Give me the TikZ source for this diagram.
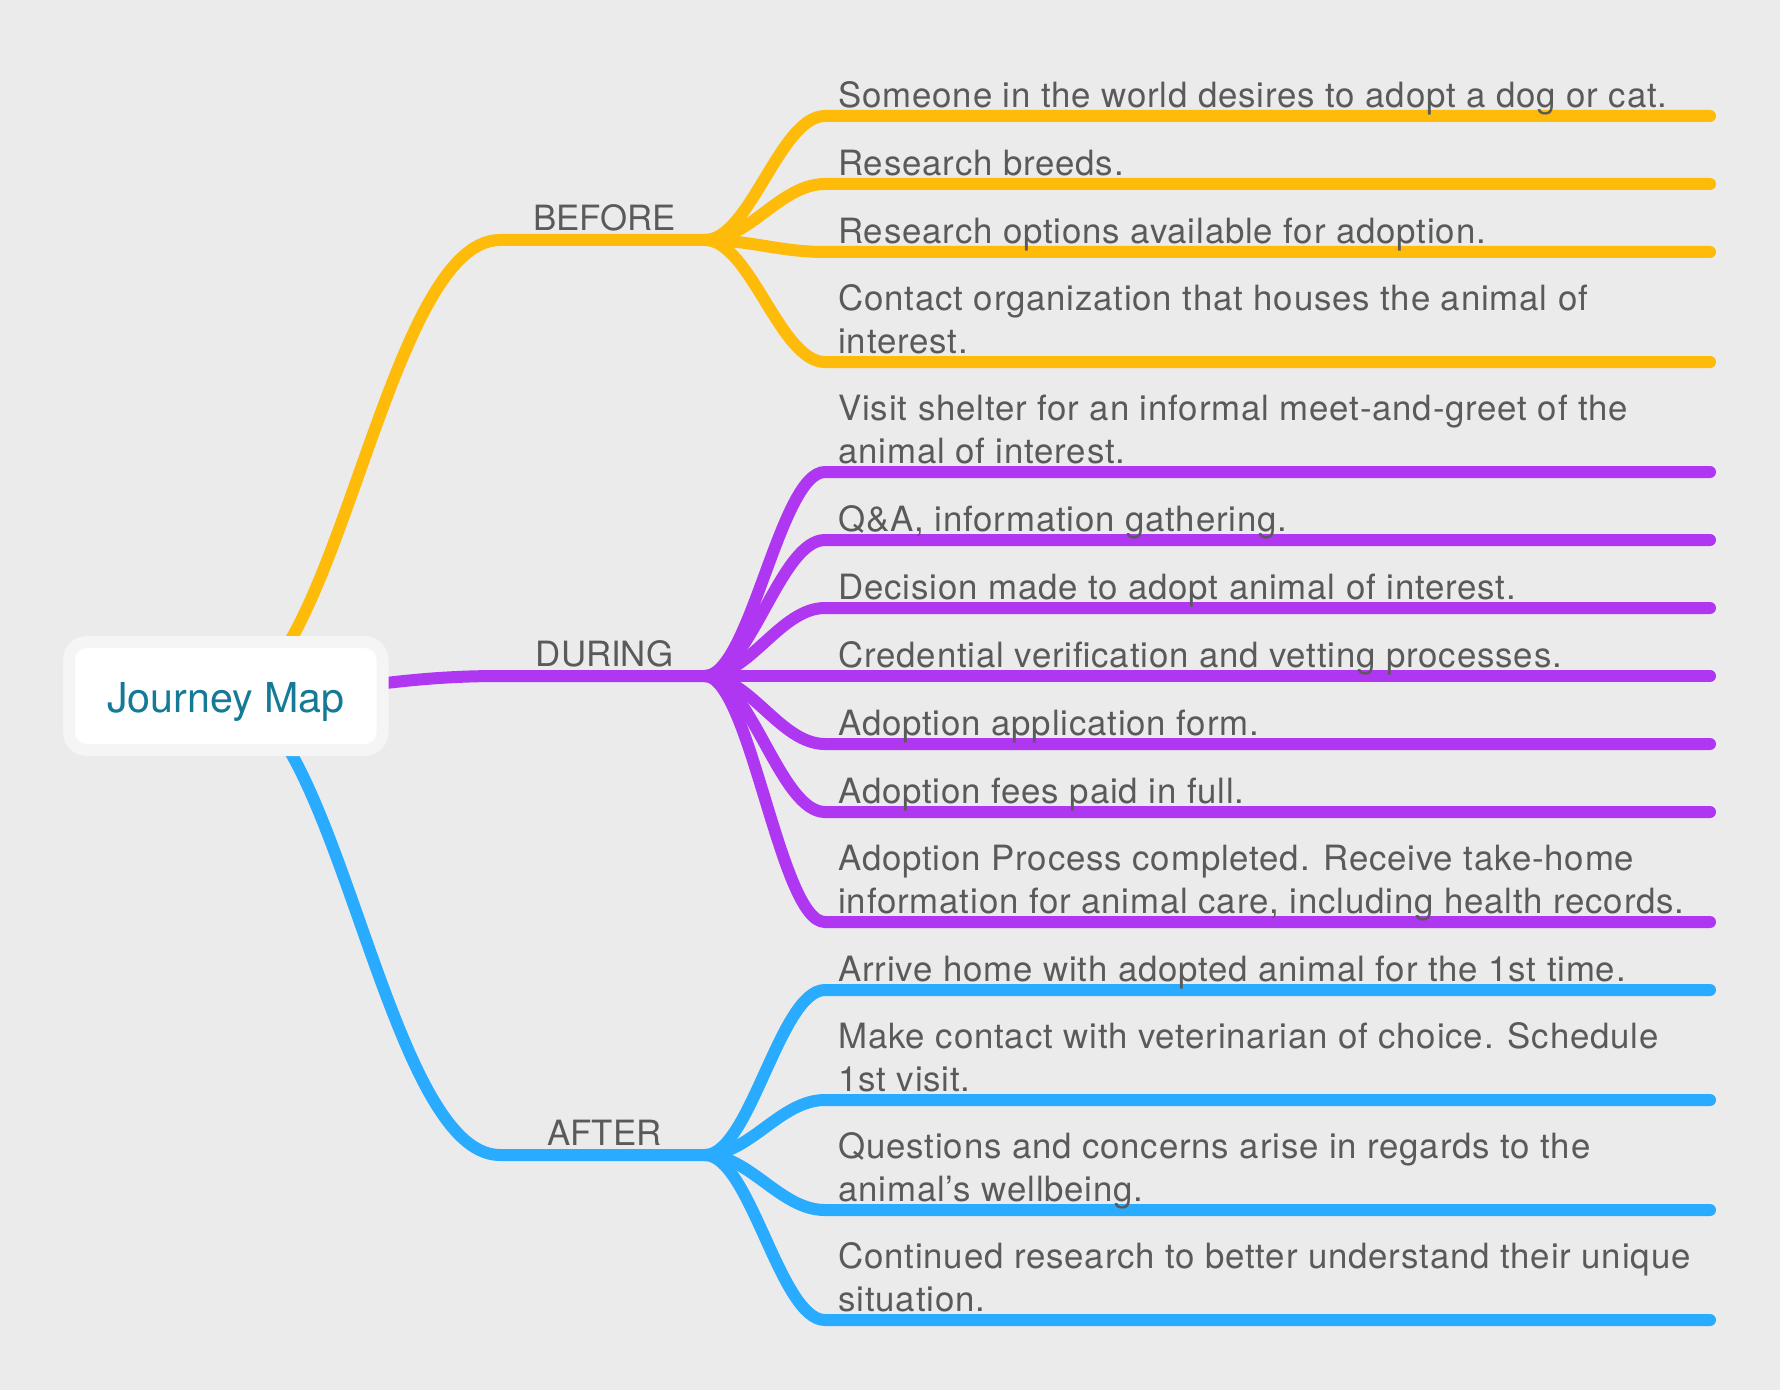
\documentclass[tikz,border=0pt]{standalone}
\usepackage{fontspec}
\setmainfont{TeX Gyre Heros}
\newfontfamily\leaffont[LetterSpace=2.4]{TeX Gyre Heros}
\usetikzlibrary{backgrounds}
\definecolor{pagebg}{HTML}{EBEBEB}
\definecolor{roottxt}{HTML}{147A96}
\definecolor{leaftxt}{HTML}{5A5A5A}
\definecolor{rootrim}{HTML}{F5F5F5}
\definecolor{yellowline}{HTML}{FFBB0A}
\definecolor{purpleline}{HTML}{B037F2}
\definecolor{blueline}{HTML}{29ABFF}
\begin{document}
\begin{tikzpicture}[x=0.5pt,y=-0.5pt]
\tikzstyle{main}=[inner sep=0pt, text=leaftxt]
\tikzstyle{leaf}=[main, anchor=base west, align=left, font=\leaffont\fontsize{17.4}{21.5}\selectfont]
\tikzstyle{stage}=[main, anchor=base, font=\fontsize{17.4}{21.5}\selectfont]
\tikzstyle{branch}=[line width=6pt, line cap=round]
\node[draw=rootrim, fill=white, line width=6pt, rounded corners=9pt, minimum width=156.75pt, minimum height=54pt, text height=16pt, text depth=0pt, text=roottxt, font=\fontsize{20.6}{24}\selectfont] (root) at (225.75,696) {Journey Map};
% stages
\foreach \name/\txt/\y in {b/BEFORE/240,d/DURING/676,a/AFTER/1155}
   {
    \coordinate (s\name) at (500,\y);
    \coordinate (j\name) at (705,\y);
    \node[stage] (t\name) at (604.5,\y-9.5) {\txt};
   }
% leaves
\foreach \name/\y/\txt in {b1/116/Someone in the world desires to adopt a dog or cat.,
    b2/184/Research breeds.,
    b3/252/Research options available for adoption.,
    b4/362/{Contact organization that houses the animal of\\interest.},
    d1/472/{Visit shelter for an informal meet-and-greet of the\\animal of interest.},
    d2/540/{Q\&A, information gathering.},
    d3/608/Decision made to adopt animal of interest.,
    d4/676/Credential verification and vetting processes.,
    d5/744/Adoption application form.,
    d6/812/Adoption fees paid in full.,
    d7/922/{Adoption Process completed. Receive take-home\\information for animal care, including health records.},
    a1/990/Arrive home with adopted animal for the 1st time.,
    a2/1100/{Make contact with veterinarian of choice. Schedule\\1st visit.},
    a3/1210/{Questions and concerns arise in regards to the\\animal’s wellbeing.},
    a4/1320/{Continued research to better understand their unique\\situation.}}
   {
    \coordinate (l\name) at (825,\y);
    \coordinate (e\name) at (1710,\y);
    \node[leaf] (n\name) at (838,\y-8.5) {\txt};
   }
\begin{scope}[on background layer]
\fill[pagebg] (0,0) rectangle (1780,1390);
\foreach \name/\col in {b/yellowline,d/purpleline,a/blueline}
    \draw[branch, draw=\col] (root.center) .. controls +(110,0) and +(-115,0) .. (s\name) -- (j\name);
\foreach \leaf in {b1,b2,b3,b4}
    \draw[branch, draw=yellowline] (jb) .. controls +(45,0) and +(-45,0) .. (l\leaf) -- (e\leaf);
\foreach \leaf in {d1,d2,d3,d4,d5,d6,d7}
    \draw[branch, draw=purpleline] (jd) .. controls +(45,0) and +(-45,0) .. (l\leaf) -- (e\leaf);
\foreach \leaf in {a1,a2,a3,a4}
    \draw[branch, draw=blueline] (ja) .. controls +(45,0) and +(-45,0) .. (l\leaf) -- (e\leaf);
\end{scope}
\end{tikzpicture}
\end{document}
